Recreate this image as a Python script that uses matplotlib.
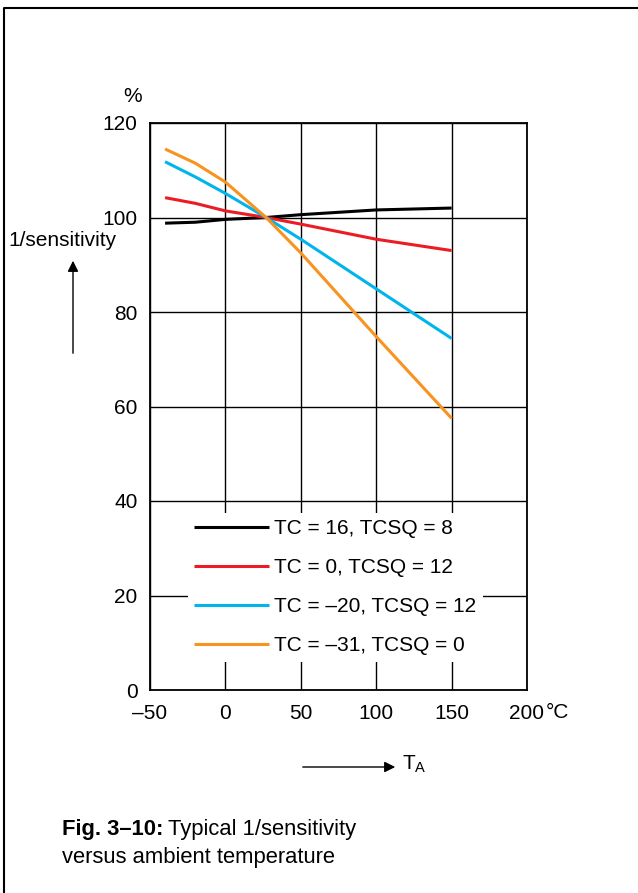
import matplotlib.pyplot as plt
from matplotlib.lines import Line2D

plt.rcParams['font.family'] = ['Liberation Sans', 'DejaVu Sans']

# data
temps = [-40, -20, 0, 27, 50, 100, 150]
tc16 = [98.8, 99.0, 99.6, 100.0, 100.6, 101.6, 102.0]
tc0 = [104.2, 103.0, 101.4, 100.0, 98.6, 95.4, 93.0]
tc20 = [111.8, 108.6, 105.1, 100.0, 95.4, 84.9, 74.4]
tc31 = [114.5, 111.5, 107.5, 100.0, 92.5, 74.8, 57.5]

labels = ['TC = 16, TCSQ = 8', 'TC = 0, TCSQ = 12',
          'TC = \u201320, TCSQ = 12', 'TC = \u201331, TCSQ = 0']
colors = ['black', '#ec1c24', '#00b4ec', '#f7931e']

xticks = [-50, 0, 50, 100, 150, 200]
xticklabels = ['\u201350', '0', '50', '100', '150', '200']
yticks = [0, 20, 40, 60, 80, 100, 120]

fs = 15
W, H = 638, 893
fig = plt.figure(figsize=(W / 100, H / 100), dpi=100)
ax = fig.add_axes([150 / W, 1 - 690 / H, 377 / W, 567 / H])

ax.set_xlim(-50, 200)
ax.set_ylim(0, 120)
ax.set_xticks(xticks)
ax.set_xticklabels(xticklabels)
ax.set_yticks(yticks)
ax.tick_params(axis='both', length=0, labelsize=fs)
ax.tick_params(axis='x', pad=10)
ax.tick_params(axis='y', pad=9)
ax.grid(True, color='black', lw=1.0)
ax.set_axisbelow(True)
for s in ax.spines.values():
    s.set_linewidth(1.3)

for ys, c, lab in zip([tc16, tc0, tc20, tc31], colors, labels):
    ax.plot(temps, ys, color=c, lw=2.2, label=lab, solid_capstyle='butt')

leg = ax.legend(loc='upper left', bbox_to_anchor=((188 - 150) / 377, (690 - 513) / 567),
                frameon=True, fancybox=False, framealpha=1, edgecolor='none',
                fontsize=fs, handlelength=3.6, handletextpad=0.25,
                labelspacing=0.96, borderpad=0.3, borderaxespad=0)

# unit labels
fig.text(546 / W, 1 - 712 / H, '\u00b0C', fontsize=fs, ha='left', va='center')
fig.text(133 / W, 1 - 97 / H, '%', fontsize=fs, ha='center', va='center')

# y-axis label with arrow
fig.text(8 / W, 1 - 241 / H, '1/sensitivity', fontsize=fs, ha='left', va='center')
fig.add_artist(plt.Annotation('', xy=(73 / W, 1 - 258 / H), xytext=(73 / W, 1 - 356 / H),
                              xycoords='figure fraction',
                              arrowprops=dict(arrowstyle='-|>', color='black', lw=1,
                                              mutation_scale=16)))

# x-axis label with arrow
fig.add_artist(plt.Annotation('', xy=(398 / W, 1 - 767 / H), xytext=(300 / W, 1 - 767 / H),
                              xycoords='figure fraction',
                              arrowprops=dict(arrowstyle='-|>', color='black', lw=1,
                                              mutation_scale=16)))
fig.text(402 / W, 1 - 764 / H, r'T$_\mathregular{A}$', fontsize=fs, ha='left', va='center')

# caption: bold prefix followed by regular text
cfs = 15.8
bold = fig.text(62 / W, 1 - 830 / H, 'Fig. 3\u201310:', fontsize=cfs, fontweight='bold',
                ha='left', va='center')
fig.canvas.draw()
bb = bold.get_window_extent(renderer=fig.canvas.get_renderer())
fig.text((bb.x1 + 5) / W, 1 - 830 / H, 'Typical 1/sensitivity', fontsize=cfs,
         ha='left', va='center')
fig.text(62 / W, 1 - 857 / H, 'versus ambient temperature', fontsize=cfs,
         ha='left', va='center')

# outer frame (top and left edges)
fig.add_artist(Line2D([3.5 / W, 3.5 / W, 1], [0, 1 - 8 / H, 1 - 8 / H],
                      transform=fig.transFigure, color='black', lw=1.5))

fig.savefig('out.png', dpi=100)
